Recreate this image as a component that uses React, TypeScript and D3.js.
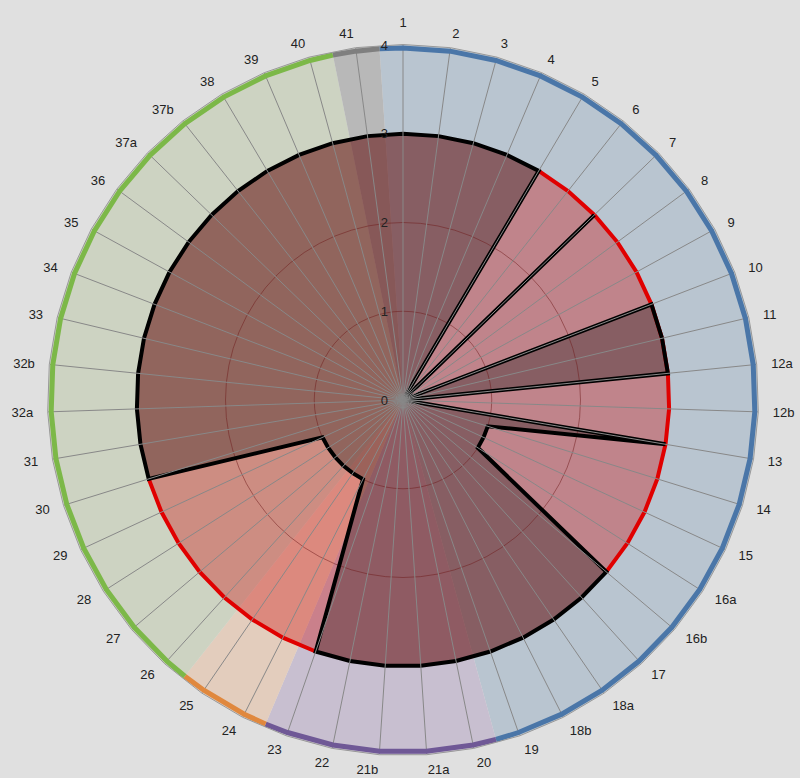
import React, { useMemo } from 'react';
import * as d3 from 'd3';

// categories clockwise from 12 o'clock
const categories = [
  '1', '2', '3', '4', '5', '6', '7', '8', '9', '10', '11', '12a', '12b', '13', '14', '15',
  '16a', '16b', '17', '18a', '18b', '19', '20', '21a', '21b', '22', '23', '24', '25', '26',
  '27', '28', '29', '30', '31', '32a', '32b', '33', '34', '35', '36', '37a', '37b', '38',
  '39', '40', '41',
];

// consecutive category groups (blue, purple, orange, green, grey)
const groupSizes = [22, 5, 2, 17, 1];

// lower (dark) series
const darkValues = [
  3, 3, 3, 3, 3, 0, 3, 0, 0, 3, 3, 3, 0, 3, 1, 1,
  1, 3, 3, 3, 3, 3, 3, 3, 3, 3, 3, 1, 1, 1,
  1, 1, 1, 3, 3, 3, 3, 3, 3, 3, 3, 3, 3, 3,
  3, 3, 3,
];

// upper (red) series, stacked on the dark one; null = no point
const pinkValues: (number | null)[] = [
  null, null, null, null, 0, 3, 0, 3, 3, 0, 0, 0, 3, 0, 2, 2,
  2, 0, null, null, null, null, null, null, null, null, 0, 2, 2, 2,
  2, 2, 2, 0, null, null, null, null, null, null, null, null, null, null,
  null, null, null,
];

const radialTicks = [0, 1, 2, 3, 4];

const W = 800;
const H = 778;
const CX = 403;
const CY = 400;
const R = 355;
const LABEL_R = 370;

const groupStroke = ['#4a76a8', '#6f5896', '#e0883e', '#7cb848', '#7f7f7f'];
const groupFill = ['#b9c5d0', '#c8bfd0', '#e3cdbd', '#cdd3c2', '#b8b8b8'];

const font = '"Liberation Sans", Arial, sans-serif';

type Row = { c: string; a: number; dark: number; pink: number | null };

export default function App() {
  const x = d3.scaleBand<string>().domain(categories).range([0, 2 * Math.PI]);
  const step = x.bandwidth();
  const r = d3.scaleLinear().domain([0, 4]).range([0, R]);

  const rows: Row[] = categories.map((c, i) => ({
    c,
    a: x(c) as number,
    dark: darkValues[i],
    pink: pinkValues[i],
  }));

  const groups = useMemo(() => {
    const ends = Array.from(d3.cumsum(groupSizes));
    return groupSizes.map((n, gi) => {
      const last = ends[gi] - 1;
      const first = last - n + 1;
      return {
        gi,
        a0: (x(categories[first]) as number) - step / 2,
        a1: (x(categories[last]) as number) + step / 2,
        spokes: rows.slice(first, last + 1).map((d) => d.a),
      };
    });
  }, []);

  const wedge = d3.arc<any>();
  const ringLine = d3.lineRadial<number>().angle((a) => a).radius(R - 3);

  const darkLine = d3
    .lineRadial<Row>()
    .angle((d) => d.a)
    .radius((d) => r(d.dark))
    .curve(d3.curveLinearClosed);

  const pinkArea = d3
    .areaRadial<Row>()
    .defined((d) => d.pink != null)
    .angle((d) => d.a)
    .innerRadius((d) => r(d.dark))
    .outerRadius((d) => r(d.dark + (d.pink ?? 0)));

  const pinkLine = d3
    .lineRadial<Row>()
    .defined((d) => d.pink != null)
    .angle((d) => d.a)
    .radius((d) => r(d.dark + (d.pink ?? 0)));

  const outline = d3
    .lineRadial<Row>()
    .angle((d) => d.a)
    .radius(R + 0.5)
    .curve(d3.curveLinearClosed);

  return (
    <svg
      width={W}
      height={H}
      style={{ position: 'absolute', left: 0, top: 0, display: 'block' }}
    >
      <rect width={W} height={H} fill="#e0e0e0" />
      <g transform={`translate(${CX},${CY})`}>
        {/* group background wedges */}
        {groups.map((g) => (
          <path
            key={`bg${g.gi}`}
            d={wedge({ innerRadius: 0, outerRadius: R, startAngle: g.a0, endAngle: g.a1 }) as string}
            fill={groupFill[g.gi]}
          />
        ))}

        {/* data fills */}
        <path d={pinkArea(rows) as string} fill="rgb(206,0,0)" fillOpacity={0.33} />
        <path d={darkLine(rows) as string} fill="rgb(90,0,0)" fillOpacity={0.52} />

        {/* radial grid */}
        {radialTicks.slice(1, 4).map((t) => (
          <circle key={t} r={r(t)} fill="none" stroke="rgba(110,25,25,0.5)" strokeWidth={1} />
        ))}

        {/* data outlines */}
        <path d={pinkLine(rows) as string} fill="none" stroke="#e00000" strokeWidth={4} />
        <path d={darkLine(rows) as string} fill="none" stroke="#000" strokeWidth={4} />

        {/* spokes */}
        {rows.map((d) => (
          <line
            key={d.c}
            x1={0}
            y1={0}
            x2={R * Math.sin(d.a)}
            y2={-R * Math.cos(d.a)}
            stroke="#888"
            strokeWidth={1}
          />
        ))}

        {/* group ring */}
        {groups.map((g) => (
          <path
            key={`ring${g.gi}`}
            d={ringLine([g.a0, ...g.spokes, g.a1]) as string}
            fill="none"
            stroke={groupStroke[g.gi]}
            strokeWidth={5}
          />
        ))}
        <path d={outline(rows) as string} fill="none" stroke="#999" strokeWidth={1} />

        {/* category labels */}
        {rows.map((d) => {
          const s = Math.sin(d.a);
          const anchor = s > 0.05 ? 'start' : s < -0.05 ? 'end' : 'middle';
          const lr = anchor === 'middle' ? LABEL_R + 8 : LABEL_R;
          return (
            <text
              key={`l${d.c}`}
              x={lr * Math.sin(d.a)}
              y={-lr * Math.cos(d.a)}
              dy="0.35em"
              textAnchor={anchor}
              fontFamily={font}
              fontSize={13}
              fill="#222"
            >
              {d.c}
            </text>
          );
        })}

        {/* radial axis labels */}
        {radialTicks.map((t) => (
          <text
            key={`t${t}`}
            x={-15}
            y={-r(t)}
            dy="0.35em"
            textAnchor="end"
            fontFamily={font}
            fontSize={13}
            fill="#222"
          >
            {t}
          </text>
        ))}
      </g>
    </svg>
  );
}
